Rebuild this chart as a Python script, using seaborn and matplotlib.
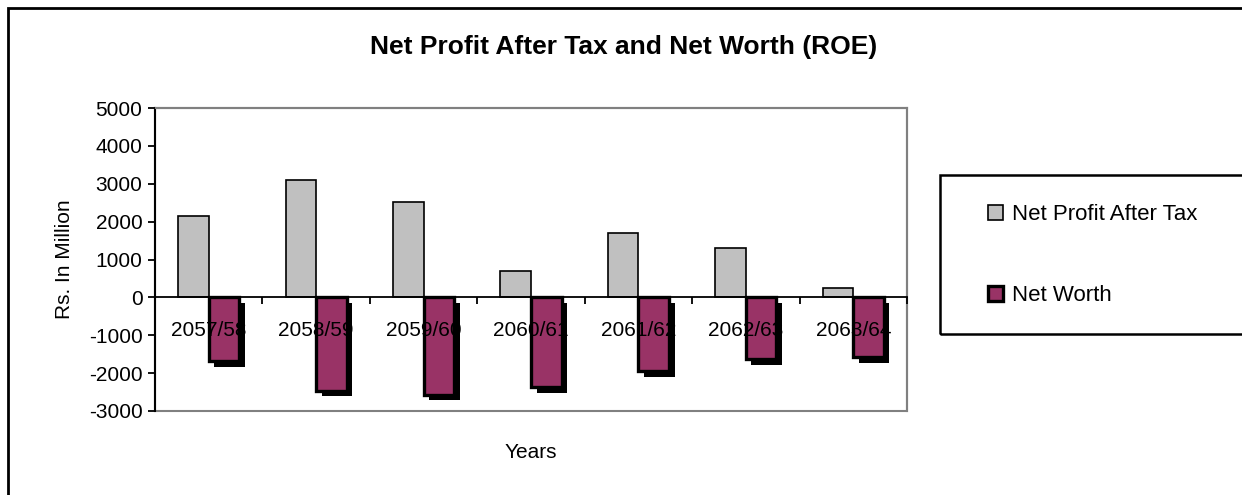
import numpy as np
import pandas as pd
import seaborn as sns
import matplotlib
matplotlib.use("Agg")
import matplotlib.pyplot as plt
from matplotlib.patches import Rectangle, Patch
from matplotlib import patheffects as pe

# Fiscal years (Nepali calendar) and values in Rs. million
years = ["2057/58", "2058/59", "2059/60", "2060/61", "2061/62", "2062/63", "2063/64"]
net_profit_after_tax = [2160, 3090, 2520, 700, 1710, 1310, 250]
net_worth = [-1690, -2460, -2570, -2370, -1950, -1640, -1580]
series_names = ["Net Profit After Tax", "Net Worth"]
y_ticks = [-3000, -2000, -1000, 0, 1000, 2000, 3000, 4000, 5000]

GRAY = "#C0C0C0"
MAROON = "#993366"
FRAME_GRAY = "#808080"

sns.set_theme(style="white")
plt.rcParams["font.family"] = ["Liberation Sans", "DejaVu Sans"]
plt.rcParams["axes.unicode_minus"] = False
plt.rcParams["text.color"] = "black"

df = pd.DataFrame({
    "Years": years * 2,
    "Value": net_profit_after_tax + net_worth,
    "Series": [series_names[0]] * len(years) + [series_names[1]] * len(years),
})

W, H = 1242, 495
fig = plt.figure(figsize=(W / 100, H / 100), dpi=100, facecolor="white")
ax = fig.add_axes([155 / W, 1 - 411 / H, 752 / W, 303 / H])

sns.barplot(
    data=df, x="Years", y="Value", hue="Series", hue_order=series_names,
    palette=[GRAY, MAROON], width=0.57, saturation=1, errorbar=None,
    edgecolor="black", linewidth=1.2, legend=False, ax=ax,
)

# Net Worth bars: heavy outline and a solid drop shadow
for bar in ax.containers[1]:
    bar.set_linewidth(2.4)
    bar.set_path_effects([
        pe.SimplePatchShadow(offset=(4, -4), shadow_rgbFace="black", alpha=1.0),
        pe.Normal(),
    ])

ax.set_xlim(-0.5, len(years) - 0.5)
ax.set_ylim(y_ticks[0], y_ticks[-1])

# Category axis sits on the zero line; its labels are drawn above the bars
ax.set_axisbelow(False)
ax.spines["bottom"].set_position(("data", 0))
ax.spines["bottom"].set_color("black")
ax.spines["bottom"].set_linewidth(1.3)
ax.spines["left"].set_color("black")
ax.spines["left"].set_linewidth(1.5)
for side in ("top", "right"):
    ax.spines[side].set_color(FRAME_GRAY)
    ax.spines[side].set_linewidth(1.5)
ax.add_patch(Rectangle((0, 0), 1, 1, transform=ax.transAxes, fill=False,
                       edgecolor=FRAME_GRAY, linewidth=1.5, clip_on=False, zorder=0.3))

ax.set_xticks(np.arange(-0.5, len(years), 1.0))
ax.set_xticks(np.arange(len(years)), minor=True)
ax.set_xticklabels(years, minor=True)
ax.tick_params(axis="x", which="major", bottom=True, direction="out", length=5,
               width=1.3, color="black", labelbottom=False)
ax.tick_params(axis="x", which="minor", bottom=True, length=0, pad=17,
               labelsize=15, labelcolor="black")

ax.set_yticks(y_ticks)
ax.set_yticklabels([str(v) for v in y_ticks])
ax.tick_params(axis="y", left=True, direction="out", length=5, width=1.3,
               color="black", labelsize=15, labelcolor="black", pad=4)

ax.set_xlabel("Years", fontsize=15, color="black")
ax.xaxis.set_label_coords(0.5, -0.105)
ax.set_ylabel("Rs. In Million", fontsize=15, color="black")
ax.yaxis.set_label_coords(-0.108, 0.5)

fig.text(0.502, 1 - 47 / H, "Net Profit After Tax and Net Worth (ROE)",
         ha="center", va="center", fontsize=19, fontweight="bold")

# Outer chart border (runs off the right and bottom edges)
fig.patches.append(Rectangle((8 / W, -0.1), 1.2, 1.1 - 8 / H, transform=fig.transFigure,
                             fill=False, edgecolor="black", linewidth=2))

# Legend box (runs off the right edge)
fig.patches.append(Rectangle((940 / W, 1 - 334 / H), 0.5, (334 - 175) / H,
                             transform=fig.transFigure, fill=False,
                             edgecolor="black", linewidth=1.8))
handles = [
    Patch(facecolor=GRAY, edgecolor="black", linewidth=1.2),
    Patch(facecolor=MAROON, edgecolor="black", linewidth=2.4),
]
fig.legend(handles, series_names, loc="center left",
           bbox_to_anchor=(988 / W, 1 - 255 / H), frameon=False, fontsize=16,
           handlelength=0.68, handleheight=0.68, handletextpad=0.4,
           labelspacing=2.7, borderpad=0, borderaxespad=0)

fig.savefig("out.png", dpi=100, facecolor="white")
